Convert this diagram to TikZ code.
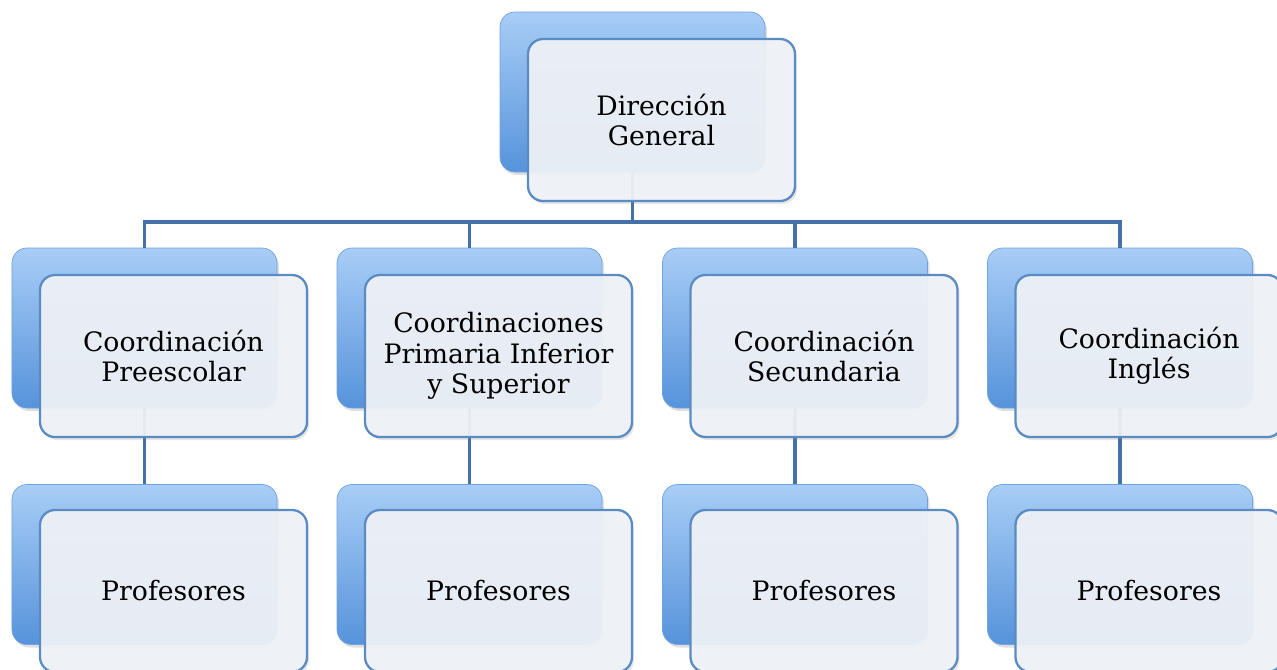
\documentclass[tikz,border=0pt]{standalone}
\usepackage{fontspec}
\setmainfont{DejaVu Serif}
\usepackage{tikz}
\usetikzlibrary{positioning}
\usetikzlibrary{shadows}
\definecolor{backtop}{HTML}{A8CDF6}
\definecolor{backbot}{HTML}{5693DB}
\definecolor{frontfill}{HTML}{EFF2F7}
\definecolor{frontline}{HTML}{5B8BC3}
\definecolor{linkblue}{HTML}{4471A8}
\tikzset{
  backbox/.style={rectangle, rounded corners=0.3cm, minimum width=5.3cm, minimum height=3.2cm,
    top color=backtop, bottom color=backbot, draw=backbot!85!white, line width=0.4pt,
    drop shadow={opacity=0.25, shadow xshift=0.04cm, shadow yshift=-0.06cm}},
  frontbox/.style={rectangle, rounded corners=0.3cm, minimum width=5.34cm, minimum height=3.24cm,
    fill=frontfill, fill opacity=0.94, text opacity=1, draw=frontline, line width=1.3pt,
    align=center, text=black, font=\fontsize{15.2}{17.2}\selectfont,
    drop shadow={opacity=0.2, shadow xshift=0.04cm, shadow yshift=-0.06cm}},
  link/.style={draw=linkblue, line width=2.2pt}
}

\begin{document}
\begin{tikzpicture}
     \useasboundingbox (0,0) rectangle (25.54,-13.38);
     % back boxes
     \node[backbox] (dirb) at (12.65,-1.84) {};
     \node[backbox] (preb) at (2.89,-6.56) {};
     \node[backbox] (prib) at (9.39,-6.56) {};
     \node[backbox] (secb) at (15.90,-6.56) {};
     \node[backbox] (ingb) at (22.40,-6.56) {};
     \node[backbox] (prof1b) at (2.89,-11.29) {};
     \node[backbox] (prof2b) at (9.39,-11.29) {};
     \node[backbox] (prof3b) at (15.90,-11.29) {};
     \node[backbox] (prof4b) at (22.40,-11.29) {};
     % connectors
     \coordinate (bar) at (0,-4.44);
     \draw[link] (dirb.south) -- (dirb.south |- bar);
     \draw[link] (preb.north) |- (ingb.north |- bar) -- (ingb.north);
     \draw[link] (prib.north) -- (prib.north |- bar);
     \draw[link] (secb.north) -- (secb.north |- bar);
     \draw[link] (preb.south) -- (prof1b.north);
     \draw[link] (prib.south) -- (prof2b.north);
     \draw[link] (secb.south) -- (prof3b.north);
     \draw[link] (ingb.south) -- (prof4b.north);
     % front boxes
     \node[frontbox] (dir) at (13.23,-2.40) {Dirección\\General};
     \node[frontbox] (pre) at (3.47,-7.12) {Coordinación\\Preescolar};
     \node[frontbox] (pri) at (9.97,-7.12) {Coordinaciones\\Primaria Inferior\\y Superior};
     \node[frontbox] (sec) at (16.48,-7.12) {Coordinación\\Secundaria};
     \node[frontbox] (ing) at (22.98,-7.12) {Coordinación\\Inglés};
     \node[frontbox] (prof1) at (3.47,-11.82) {Profesores};
     \node[frontbox] (prof2) at (9.97,-11.82) {Profesores};
     \node[frontbox] (prof3) at (16.48,-11.82) {Profesores};
     \node[frontbox] (prof4) at (22.98,-11.82) {Profesores};
\end{tikzpicture}
\end{document}
